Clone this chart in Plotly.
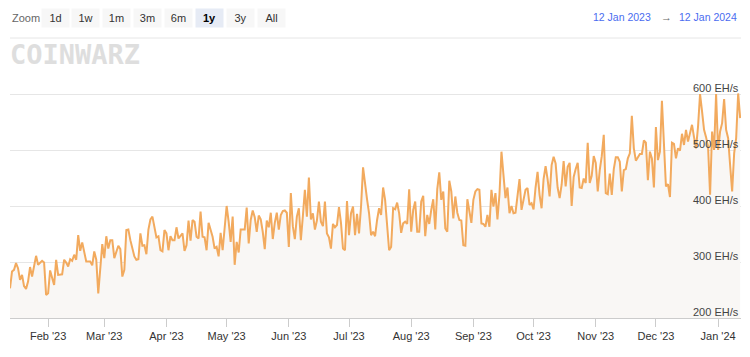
import pandas as pd
import plotly.graph_objects as go

# ---------------- data ----------------
start_date = "2023-01-12"
day_offsets = [
    1, 2, 3, 4, 5, 6, 7, 8, 9, 10, 11, 12, 14, 15, 17, 18, 19, 20, 21, 22, 23, 24, 25, 27, 28, 29, 30,
    31, 32, 33, 34, 35, 36, 37, 38, 39, 41, 42, 43, 44, 45, 47, 48, 49, 50, 51, 52, 53, 55, 56, 57, 58,
    59, 60, 61, 63, 64, 65, 66, 67, 68, 69, 70, 71, 72, 73, 74, 75, 76, 77, 78, 79, 80, 81, 82, 83, 84,
    85, 87, 88, 89, 90, 91, 92, 93,
    94, 95, 96, 97, 98, 99, 100, 101, 102, 103, 104, 105, 106, 107, 109, 110, 111, 112, 113, 114, 115,
    116, 117, 118, 119, 120, 121, 122, 123, 124, 125, 126, 127, 128, 129, 130, 131, 132, 133, 134, 135,
    136, 137, 138, 139, 140, 141, 142, 143, 144, 145, 146, 147, 148, 149, 150, 151, 152, 153, 154, 155,
    156, 157, 158, 159, 160, 161, 162, 163, 164, 165, 166, 167, 168, 169, 170, 171, 172, 173, 174, 175,
    176, 177, 178, 179, 180, 181, 182, 183, 184, 185,
    186, 187, 188, 189, 190, 191, 192, 193, 194, 195, 196, 197, 198, 199, 200, 201, 202, 203, 204, 205,
    206, 207, 208, 209, 210, 211, 212, 213, 214, 215, 216, 217, 218, 219, 220, 221, 222, 223, 224, 225,
    226, 227, 228, 229, 230, 231, 232, 233, 234, 235, 236, 237, 238, 239, 240, 241, 242, 243, 244, 245,
    246, 247, 248, 249, 250, 251, 252, 253, 254, 255, 256, 257, 258, 259, 260, 261, 262, 263, 264, 265,
    266, 267, 268, 269, 270, 271, 272, 273, 274, 275, 276, 277,
    278, 279, 280, 281, 282, 283, 284, 285, 286, 287, 288, 289, 290, 291, 292, 293, 294, 295, 296, 297,
    298, 299, 300, 301, 302, 303, 304, 305, 306, 307, 308, 309, 310, 311, 312, 313, 314, 315, 316, 317,
    318, 319, 320, 321, 322, 323, 324, 325, 326, 327, 328, 329, 330, 331, 332, 333, 334, 335, 336, 337,
    338, 339, 340, 341, 342, 343, 344, 345, 346, 347, 348, 349, 350, 351, 352, 353, 354, 355, 356, 357,
    358, 359, 360, 361, 362, 363, 364, 365,
]
hashrate_ehs = [
    253, 283, 286, 298, 289, 268, 277, 257, 252, 265, 291, 274, 311, 295, 302, 299, 241, 244, 285, 271, 259, 304, 277, 278, 304, 299, 292,
    305, 302, 313, 304, 348, 320, 335, 319, 301, 301, 294, 319, 304, 244, 332, 307, 346, 324, 339, 339, 307, 329, 323, 274, 286,
    357, 358, 339, 310, 304, 305, 351, 329, 330, 314, 358, 376, 381, 363, 344, 346, 321, 319, 357, 351, 321, 346, 339, 339, 362,
    342, 351, 320, 330, 374, 338, 375, 372,
    345, 342, 390, 345, 344, 321, 370, 358, 345, 324, 327, 310, 352, 321, 400, 372, 336, 381, 295, 336, 317,
    358, 358, 358, 397, 333, 375, 392, 380, 354, 383, 376, 354, 323, 374, 362, 388, 341, 370, 388, 358,
    384, 391, 392, 388, 327, 423, 364, 341, 381, 396, 339, 382, 429, 381, 451, 376, 387, 358, 374, 408,
    372, 364, 408, 351, 344, 324, 368, 362, 366, 398, 370, 324, 321, 409, 348, 387, 399, 348, 386, 351,
    399, 469, 436, 412, 387, 348, 354, 346, 375, 396,
    384, 433, 411, 363, 321, 327, 396, 394, 406, 387, 352, 369, 372, 368, 430, 354, 393, 408, 354, 354,
    408, 418, 346, 384, 368, 393, 412, 358, 430, 460, 411, 426, 360, 354, 445, 426, 378, 417, 388, 375,
    374, 330, 329, 412, 387, 370, 411, 426, 430, 429, 369, 368, 363, 384, 363, 429, 399, 423, 376, 420,
    497, 455, 414, 433, 387, 400, 387, 388, 414, 448, 393, 414, 429, 432, 402, 405, 394, 433, 461, 420,
    396, 448, 471, 448, 417, 473, 488, 476, 433, 414, 438, 480,
    435, 470, 477, 400, 452, 466, 477, 433, 432, 449, 441, 513, 441, 454, 489, 477, 426, 464, 489, 527,
    423, 421, 458, 420, 466, 487, 487, 479, 426, 464, 466, 485, 494, 561, 503, 481, 487, 493, 493, 517,
    513, 446, 497, 485, 433, 541, 482, 497, 588, 494, 435, 439, 416, 513, 511, 485, 503, 499, 529, 509,
    536, 515, 528, 545, 523, 503, 542, 600, 569, 536, 523, 506, 420, 533, 500, 600, 500, 533, 548, 591,
    536, 521, 473, 426, 494, 521, 601, 557,
]
y_ticks = [200, 300, 400, 500, 600]
y_top = 700
y_unit = "EH/s"
zoom_buttons = ["1d", "1w", "1m", "3m", "6m", "1y", "3y", "All"]
active_button = "1y"
range_from = "12 Jan 2023"
range_to = "12 Jan 2024"

dates = pd.to_datetime(start_date) + pd.to_timedelta(day_offsets, unit="D")

# ---------------- figure ----------------
FONT = "Liberation Sans, Arial, Helvetica, sans-serif"
W, H = 750, 357
ML, MR, MT, MB = 10, 9, 38, 39
PW, PH = W - ML - MR, H - MT - MB

def px_x(px):
    return (px - ML) / PW

def px_y(py):
    return (H - MB - py) / PH

fig = go.Figure()
fig.add_trace(go.Scatter(
    x=dates, y=hashrate_ehs, mode="lines",
    line=dict(color="#f2aa5e", width=2),
    fill="tozeroy", fillcolor="#f9f7f5",
    hoverinfo="skip",
))

annotations = []
# y labels (inside, right, above gridline)
for v in y_ticks:
    annotations.append(dict(
        x=1, xref="paper", y=v, yref="y", xanchor="right", yanchor="bottom",
        text=f"{v} {y_unit}", showarrow=False, yshift=-2,
        font=dict(family=FONT, size=11, color="#444"),
    ))

# zoom label + buttons
annotations.append(dict(
    x=px_x(10), y=px_y(18), xref="paper", yref="paper", xanchor="left", yanchor="middle",
    text="Zoom", showarrow=False, font=dict(family=FONT, size=11, color="#666"),
))
for i, b in enumerate(zoom_buttons):
    cx = 55 + i * 30.9
    active = b == active_button
    annotations.append(dict(
        x=px_x(cx), y=px_y(18), xref="paper", yref="paper", xanchor="center", yanchor="middle",
        text=f"<b>{b}</b>" if active else b, showarrow=False,
        width=27, height=18, borderpad=0,
        bgcolor="#e6ebf5" if active else "#f7f7f7",
        font=dict(family=FONT, size=11, color="#000" if active else "#333"),
    ))

# date range
annotations.append(dict(
    x=px_x(653), y=px_y(17), xref="paper", yref="paper", xanchor="right", yanchor="middle",
    text=range_from, showarrow=False, font=dict(family=FONT, size=10.5, color="#4a6cf0"),
))
annotations.append(dict(
    x=px_x(666), y=px_y(17), xref="paper", yref="paper", xanchor="center", yanchor="middle",
    text="\u2192", showarrow=False, font=dict(family=FONT, size=11, color="#666"),
))
annotations.append(dict(
    x=px_x(739), y=px_y(17), xref="paper", yref="paper", xanchor="right", yanchor="middle",
    text=range_to, showarrow=False, font=dict(family=FONT, size=10.5, color="#4a6cf0"),
))

# watermark logo
annotations.append(dict(
    x=px_x(8), y=px_y(37), xref="paper", yref="paper", xanchor="left", yanchor="top",
    text="<b>COINWARZ</b>", showarrow=False,
    font=dict(family="DejaVu Sans Mono, monospace", size=27, color="#dedede"),
))

fig.update_layout(
    width=W, height=H,
    margin=dict(l=ML, r=MR, t=MT, b=MB),
    paper_bgcolor="white", plot_bgcolor="white",
    showlegend=False,
    annotations=annotations,
    font=dict(family=FONT, size=11, color="#444"),
    shapes=[dict(
        type="line", xref="paper", yref="paper", x0=0, x1=1, y0=1, y1=1,
        line=dict(color="#e6e6e6", width=1), layer="below",
    )],
)
fig.update_xaxes(
    type="date",
    range=["2023-01-13", "2024-01-12 10:00"],
    tickformat="%b '%y", dtick="M1", tick0="2023-02-01",
    ticks="outside", ticklen=8, tickcolor="#ccc", tickwidth=1,
    showline=True, linecolor="#ccc", linewidth=1,
    showgrid=False, zeroline=False,
    tickfont=dict(family=FONT, size=11, color="#333"),
    fixedrange=True,
)
fig.update_yaxes(
    range=[200, y_top],
    tickvals=y_ticks, showticklabels=False,
    showgrid=True, gridcolor="#e6e6e6", gridwidth=1,
    zeroline=False, showline=False, ticks="",
    fixedrange=True,
)

fig.write_html(
    "out.html",
    config={"displayModeBar": False},
    post_script="document.body.style.margin='0';document.body.style.overflow='hidden';",
)
